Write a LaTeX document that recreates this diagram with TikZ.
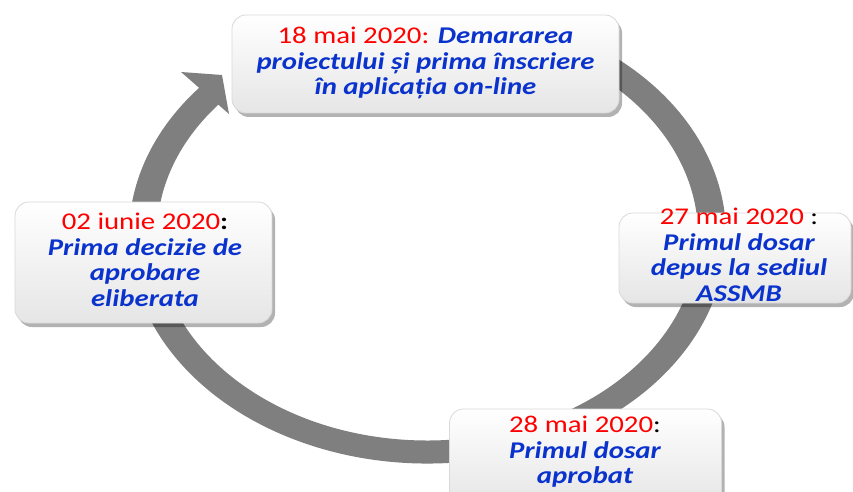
\documentclass[tikz,border=0pt]{standalone}
\usepackage{fontspec}
\setmainfont{Carlito}[FakeStretch=1.2]
\usetikzlibrary{shadows}
\definecolor{ringgray}{RGB}{127,127,127}
\definecolor{datered}{RGB}{255,0,0}
\definecolor{descblue}{RGB}{10,50,205}
\newcommand{\dt}[1]{\textcolor{datered}{#1}}
\newcommand{\ds}[1]{\textcolor{descblue}{\bfseries\itshape #1}}
\tikzset{
  box/.style={rectangle, rounded corners=14pt, draw=gray!30, line width=0.8pt,
    top color=white, bottom color=gray!20,
    drop shadow={shadow xshift=3pt, shadow yshift=-4pt, opacity=0.3, fill=black}},
  txt/.style={align=center, inner sep=0pt, font=\fontsize{24}{25.5}\selectfont},
  ring/.style={fill=ringgray, draw=none}
}
\begin{document}
\begin{tikzpicture}[x=1pt, y=-1pt]
\clip (0,0) rectangle (853,492);
\fill[white] (0,0) rectangle (853,492);
% circular arrow (stretched ring), tail hidden behind the top box
\coordinate (c) at (427.5,235);
\fill[ring] ([shift={(c)}]300:298.5 and 228.5)
  arc[start angle=300, end angle=581, x radius=298.5, y radius=228.5]
  -- ([shift={(c)}]581:270.5 and 205.5)
  arc[start angle=581, end angle=300, x radius=270.5, y radius=205.5]
  -- cycle;
\coordinate (hb1) at (181,72);
\coordinate (htip) at (222,75);
\coordinate (hb2) at (229,114);
\fill[ring] (hb1) -- (htip) -- (hb2) -- cycle;
% boxes
\node[box, minimum width=387pt, minimum height=98pt] (b1) at (425.5,64) {};
\node[box, minimum width=232pt, minimum height=90pt] (b2) at (735,258) {};
\node[box, minimum width=272pt, minimum height=96pt] (b3) at (585.5,457) {};
\node[box, minimum width=257pt, minimum height=121pt] (b4) at (143.5,262.5) {};
% texts
\node[txt] (t1) at (425.5,63) {\dt{18 mai 2020:} \ds{Demararea}\\ \ds{proiectului și prima înscriere}\\ \ds{în aplicația on-line}};
\node[txt] (t2) at (739,255) {\dt{27 mai 2020} :\\ \ds{Primul dosar}\\ \ds{depus la sediul}\\ \ds{ASSMB}};
\node[txt] (t3) at (585,452) {\dt{28 mai 2020}:\\ \ds{Primul dosar}\\ \ds{aprobat}};
\node[txt] (t4) at (145,260) {\dt{02 iunie 2020}\textbf{:}\\ \ds{Prima decizie de}\\ \ds{aprobare}\\ \ds{eliberata}};
\end{tikzpicture}
\end{document}
